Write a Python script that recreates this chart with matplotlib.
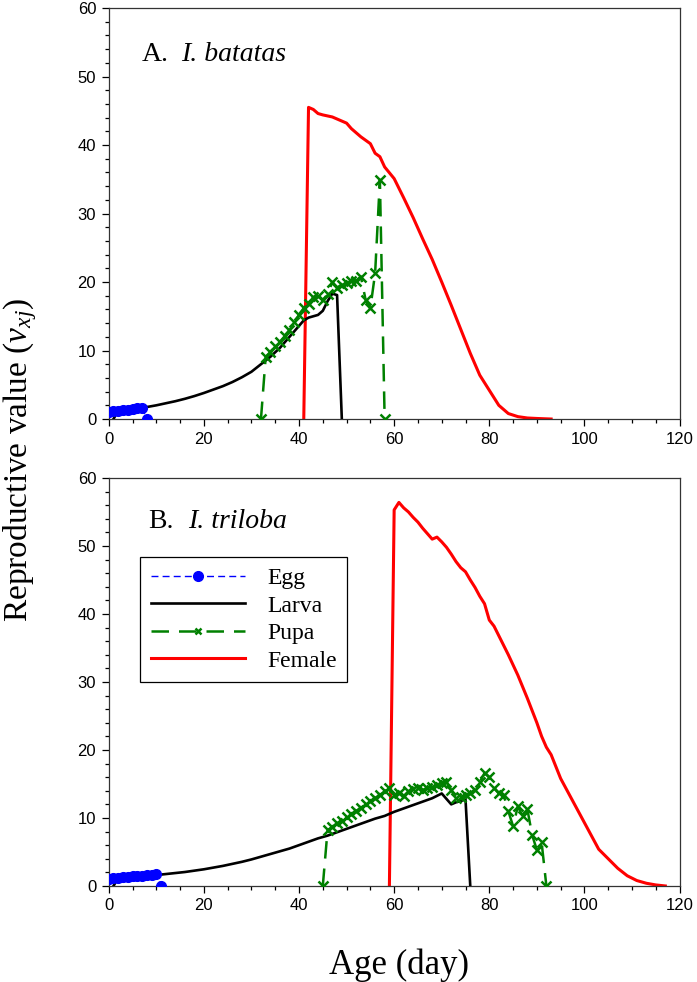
import matplotlib
matplotlib.use("Agg")
import matplotlib.pyplot as plt
from matplotlib.ticker import MultipleLocator

plt.rcParams['font.family'] = ['Liberation Serif', 'DejaVu Serif']
plt.rcParams['mathtext.fontset'] = 'custom'
plt.rcParams['mathtext.rm'] = 'Liberation Serif'
plt.rcParams['mathtext.it'] = 'Liberation Serif:italic'

# ---------------- Panel A: I. batatas ----------------
egg_a_x = [0, 1, 2, 3, 4, 5, 6, 7, 8]
egg_a_y = [1.0, 1.1, 1.2, 1.3, 1.38, 1.46, 1.55, 1.62, 0]

larva_a_x = [1, 2, 4, 6, 8, 10, 12, 14, 16, 18, 20, 22, 24, 26, 28, 30, 32, 34, 36, 38,
             40, 41, 42, 43, 44, 45, 46, 47, 48, 49]
larva_a_y = [0, 1.25, 1.4, 1.55, 1.75, 2.0, 2.3, 2.6, 2.95, 3.35, 3.8, 4.3, 4.8, 5.4, 6.1,
             6.9, 8.0, 9.1, 10.4, 12.0, 13.6, 14.4, 14.8, 15.0, 15.2, 15.8, 17.2, 18.3, 18.1, 0]

pupa_a_x = list(range(32, 59))
pupa_a_y = [0, 9.1, 9.8, 10.6, 11.3, 12.1, 13.0, 14.2, 15.2, 16.2, 16.8, 17.8, 17.9, 17.4,
            18.2, 20.0, 19.2, 19.6, 19.9, 20.1, 20.2, 20.8, 17.4, 16.2, 21.3, 34.9, 0]

female_a_x = [41, 42, 43, 44, 45, 47, 48, 50, 51, 53, 55, 56, 57, 58, 60, 62, 64, 66, 68,
              70, 72, 74, 76, 78, 80, 82, 84, 86, 88, 90, 93]
female_a_y = [0, 45.5, 45.2, 44.6, 44.4, 44.1, 43.8, 43.2, 42.4, 41.2, 40.2, 38.8, 38.3,
              36.8, 35.1, 32.3, 29.4, 26.3, 23.3, 20.0, 16.6, 13.1, 9.6, 6.4, 4.2, 2.0,
              0.8, 0.35, 0.15, 0.08, 0]

# ---------------- Panel B: I. triloba ----------------
egg_b_x = [0, 1, 2, 3, 4, 5, 6, 7, 8, 9, 10, 11]
egg_b_y = [1.05, 1.12, 1.19, 1.26, 1.33, 1.4, 1.46, 1.52, 1.58, 1.64, 1.7, 0]

larva_b_x = [1, 2, 4, 6, 8, 10, 12, 14, 16, 18, 20, 22, 24, 26, 28, 30, 32, 34, 36, 38, 40,
             42, 44, 46, 48, 50, 52, 54, 56, 58, 60, 62, 64, 66, 68, 70, 72, 73, 74, 75, 76]
larva_b_y = [0, 1.2, 1.3, 1.4, 1.5, 1.6, 1.75, 1.9, 2.05, 2.25, 2.45, 2.7, 2.95, 3.25, 3.55,
             3.9, 4.3, 4.7, 5.1, 5.5, 6.0, 6.5, 7.0, 7.4, 7.9, 8.4, 8.9, 9.4, 9.9, 10.3, 10.9,
             11.4, 11.9, 12.4, 12.9, 13.6, 12.0, 12.3, 12.5, 12.7, 0]

pupa_b_x = list(range(45, 93))
pupa_b_y = [0, 8.2, 8.7, 9.2, 9.6, 10.1, 10.6, 11.0, 11.5, 12.0, 12.5, 12.9, 13.4, 13.9,
            14.4, 13.4, 13.6, 13.2, 13.9, 14.2, 14.4, 14.1, 14.4, 14.6, 14.9, 15.1, 15.3,
            14.1, 12.9, 13.1, 13.4, 13.6, 14.1, 15.3, 16.6, 16.0, 14.4, 13.6, 13.4, 11.0,
            8.8, 11.7, 10.3, 11.3, 7.5, 5.3, 6.4, 0]

female_b_x = [59, 60, 61, 62, 63, 64, 65, 66, 67, 68, 69, 70, 71, 72, 73, 74, 75, 76, 77, 78,
              79, 80, 81, 82, 84, 86, 88, 90, 91, 92, 93, 95, 97, 99, 101, 103, 105, 107,
              109, 111, 113, 115, 117]
female_b_y = [0, 55.3, 56.4, 55.6, 55.0, 54.2, 53.5, 52.6, 51.8, 51.0, 51.3, 50.6, 49.8,
              48.8, 47.7, 46.8, 46.2, 45.0, 43.9, 42.6, 41.5, 39.1, 38.2, 36.8, 34.0, 31.0,
              27.6, 24.0, 22.0, 20.4, 19.3, 15.8, 13.2, 10.6, 8.0, 5.4, 4.0, 2.6, 1.5, 0.8,
              0.4, 0.15, 0]

panels = [
    ("A.", "I. batatas", egg_a_x, egg_a_y, larva_a_x, larva_a_y, pupa_a_x, pupa_a_y,
     female_a_x, female_a_y),
    ("B.", "I. triloba", egg_b_x, egg_b_y, larva_b_x, larva_b_y, pupa_b_x, pupa_b_y,
     female_b_x, female_b_y),
]

fig = plt.figure(figsize=(6.97, 9.82), dpi=100)
ax_a = fig.add_axes([0.156, 0.5733, 0.819, 0.4185])
ax_b = fig.add_axes([0.156, 0.0978, 0.819, 0.4155])

# letter x, species x, baseline y (axes fraction)
title_pos = {0: (0.058, 0.127, 0.871), 1: (0.069, 0.139, 0.877)}

for i, (ax, p) in enumerate(zip([ax_a, ax_b], panels)):
    letter, species, ex, ey, lx, ly, px, py, fx, fy = p
    ax.plot(ex, ey, color='blue', lw=1.0, ls=(0, (5, 3)), marker='o', ms=7,
            label='Egg', zorder=5)
    ax.plot(lx, ly, color='black', lw=1.9, label='Larva', zorder=3)
    ax.plot(px, py, color='green', lw=1.8, ls=(0, (7, 4)), marker='x', ms=7, mew=1.8,
            label='Pupa', zorder=4)
    ax.plot(fx, fy, color='red', lw=2.2, label='Female', zorder=2)

    ax.set_xlim(0, 120)
    ax.set_ylim(0, 60)
    ax.xaxis.set_major_locator(MultipleLocator(20))
    ax.xaxis.set_minor_locator(MultipleLocator(5))
    ax.yaxis.set_major_locator(MultipleLocator(10))
    ax.yaxis.set_minor_locator(MultipleLocator(2))
    ax.tick_params(which='major', direction='out', length=5, width=0.9, pad=4,
                   labelsize=12, top=False, right=False)
    ax.tick_params(which='minor', direction='out', length=3, width=0.9,
                   top=False, right=False)
    for lab in ax.get_xticklabels() + ax.get_yticklabels():
        lab.set_family('Liberation Sans')
    for s in ax.spines.values():
        s.set_linewidth(0.9)
        s.set_color('#333333')

    xl, xi, yt = title_pos[i]
    ax.text(xl, yt, letter, transform=ax.transAxes, fontsize=20)
    ax.text(xi, yt, species, transform=ax.transAxes, fontsize=20, style='italic')

leg = ax_b.legend(loc='upper left', bbox_to_anchor=(0.0555, 0.806), borderaxespad=0,
                  fontsize=17, handlelength=4.0, handletextpad=0.92, labelspacing=0.25,
                  numpoints=1, fancybox=False, edgecolor='black', framealpha=1,
                  borderpad=0.45)
leg.get_frame().set_linewidth(0.9)
for h in leg.legend_handles:
    if h.get_label() == 'Pupa':
        h.set_markersize(5)

fig.text(0.5725, 0.0, "Age (day)", ha='center', va='bottom', fontsize=25)
fig.text(0.002, 0.532, r"Reproductive value ($v_{xj}$)", ha='left', va='center',
         rotation=90, fontsize=24)

fig.savefig("out.png", dpi=100)
